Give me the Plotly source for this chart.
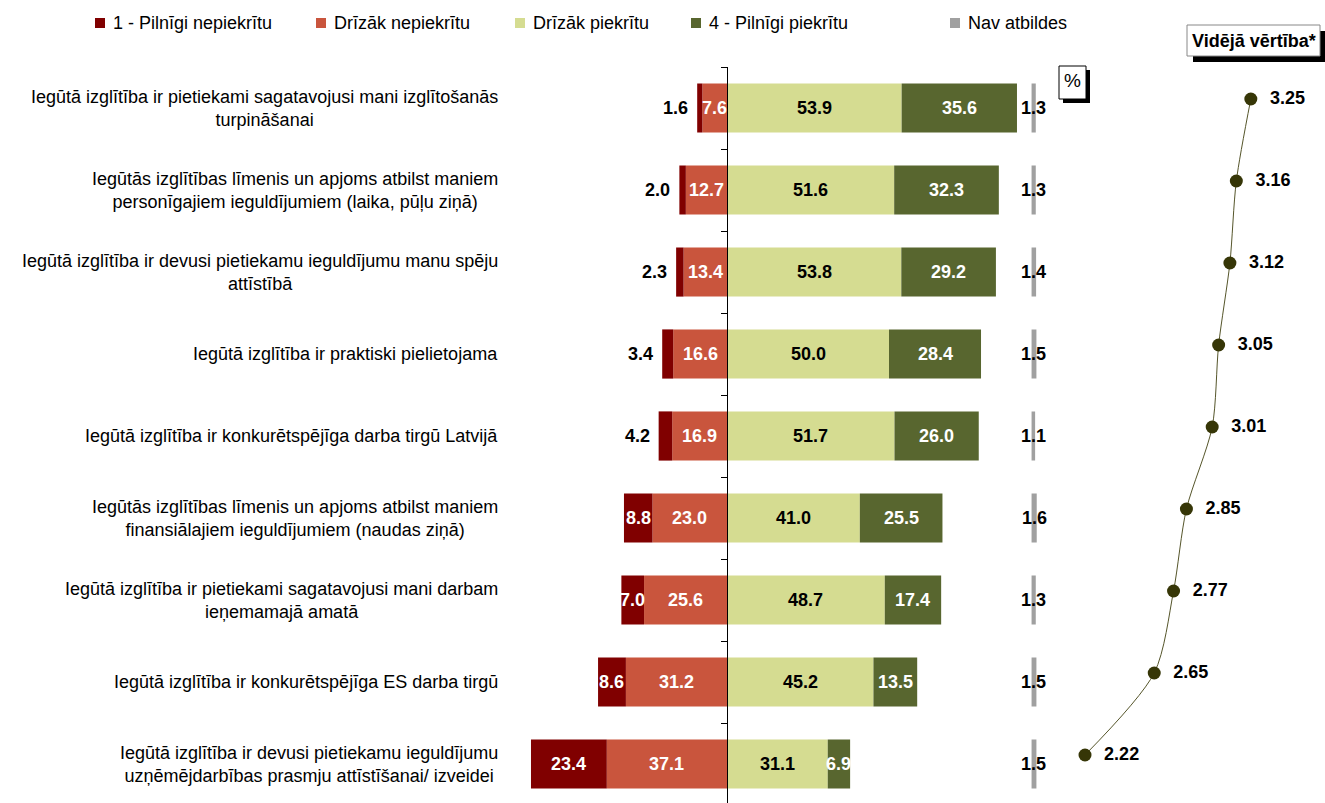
import plotly.graph_objects as go

categories = [
    "Iegūtā izglītība ir pietiekami sagatavojusi mani izglītošanās<br>turpināšanai",
    "Iegūtās izglītības līmenis un apjoms atbilst maniem<br>personīgajiem ieguldījumiem (laika, pūļu ziņā)",
    "Iegūtā izglītība ir devusi pietiekamu ieguldījumu manu spēju<br>attīstībā",
    "Iegūtā izglītība ir praktiski pielietojama",
    "Iegūtā izglītība ir konkurētspējīga darba tirgū Latvijā",
    "Iegūtās izglītības līmenis un apjoms atbilst maniem<br>finansiālajiem ieguldījumiem (naudas ziņā)",
    "Iegūtā izglītība ir pietiekami sagatavojusi mani darbam<br>ieņemamajā amatā",
    "Iegūtā izglītība ir konkurētspējīga ES darba tirgū",
    "Iegūtā izglītība ir devusi pietiekamu ieguldījumu<br>uzņēmējdarbības prasmju attīstīšanai/ izveidei",
]
pilnigi_nepiekritu = [1.6, 2.0, 2.3, 3.4, 4.2, 8.8, 7.0, 8.6, 23.4]
drizak_nepiekritu = [7.6, 12.7, 13.4, 16.6, 16.9, 23.0, 25.6, 31.2, 37.1]
drizak_piekritu = [53.9, 51.6, 53.8, 50.0, 51.7, 41.0, 48.7, 45.2, 31.1]
pilnigi_piekritu = [35.6, 32.3, 29.2, 28.4, 26.0, 25.5, 17.4, 13.5, 6.9]
nav_atbildes = [1.3, 1.3, 1.4, 1.5, 1.1, 1.6, 1.3, 1.5, 1.5]
videja_vertiba = [3.25, 3.16, 3.12, 3.05, 3.01, 2.85, 2.77, 2.65, 2.22]
series_names = ["1 - Pilnīgi nepiekrītu", "Drīzāk nepiekrītu", "Drīzāk piekrītu",
                "4 - Pilnīgi piekrītu", "Nav atbildes"]

C_DKRED = "#800000"
C_RED = "#C9553D"
C_LTGRN = "#D5DC91"
C_DKGRN = "#58662F"
C_GREY = "#A0A0A0"
C_OLIVE = "#363607"

W, H = 1325, 803
NAV_BASE = 94.0
FONT = "Liberation Sans, Arial, sans-serif"

def px(xp):
    return xp / W

def py(yp):
    return 1 - yp / H

ys = list(range(len(categories)))
fig = go.Figure()

red_base = [-v for v in drizak_nepiekritu]
dkred_base = [-(a + b) for a, b in zip(drizak_nepiekritu, pilnigi_nepiekritu)]

def add_bar(vals, base, color, name):
    fig.add_trace(go.Bar(y=ys, x=vals, base=base, orientation="h", width=0.6,
                         marker=dict(color=color, line=dict(width=0)),
                         name=name, showlegend=False, hoverinfo="skip"))

add_bar(drizak_nepiekritu, red_base, C_RED, series_names[1])
add_bar(pilnigi_nepiekritu, dkred_base, C_DKRED, series_names[0])
add_bar(drizak_piekritu, [0] * len(ys), C_LTGRN, series_names[2])
add_bar(pilnigi_piekritu, drizak_piekritu, C_DKGRN, series_names[3])
add_bar(nav_atbildes, [NAV_BASE] * len(ys), C_GREY, series_names[4])

# mean values
fig.add_trace(go.Scatter(
    x=videja_vertiba, y=ys, xaxis="x2", yaxis="y2", mode="lines+markers+text",
    line=dict(color="#55552a", width=1, shape="spline", smoothing=0.8),
    marker=dict(color=C_OLIVE, size=13),
    text=["\u00a0\u00a0" + f"{v:.2f}" for v in videja_vertiba], textposition="middle right",
    textfont=dict(family=FONT, size=18, color="black", weight="bold"),
    showlegend=False, hoverinfo="skip", cliponaxis=False))

annotations = []
lab_font_w = dict(family=FONT, size=18, color="white", weight="bold")
lab_font_b = dict(family=FONT, size=18, color="black", weight="bold")
for i in ys:
    r, d, lg, dg, n = (drizak_nepiekritu[i], pilnigi_nepiekritu[i], drizak_piekritu[i],
                       pilnigi_piekritu[i], nav_atbildes[i])
    annotations.append(dict(x=-r / 2, y=i, text=f"{r:.1f}", showarrow=False,
                            font=lab_font_w, xref="x", yref="y"))
    if d >= 6:
        annotations.append(dict(x=-r - d / 2, y=i, text=f"{d:.1f}", showarrow=False,
                                font=lab_font_w, xref="x", yref="y"))
    else:
        annotations.append(dict(x=-r - d, y=i, text=f"{d:.1f}", showarrow=False,
                                xanchor="right", xshift=-7,
                                font=lab_font_b, xref="x", yref="y"))
    annotations.append(dict(x=lg / 2, y=i, text=f"{lg:.1f}", showarrow=False,
                            font=lab_font_b, xref="x", yref="y"))
    annotations.append(dict(x=lg + dg / 2, y=i, text=f"{dg:.1f}", showarrow=False,
                            font=lab_font_w, xref="x", yref="y"))
    annotations.append(dict(x=NAV_BASE + n / 2, y=i, text=f"{n:.1f}", showarrow=False,
                            font=lab_font_b, xref="x", yref="y"))
    annotations.append(dict(x=px(500), y=i, xref="paper", yref="y", text=categories[i],
                            showarrow=False, xanchor="right", yanchor="middle", align="center",
                            font=dict(family=FONT, size=18, color="black")))

# legend (manual)
shapes = []
legend_x = [95, 316, 515, 691, 950]
legend_colors = [C_DKRED, C_RED, C_LTGRN, C_DKGRN, C_GREY]
for lx, col, nm in zip(legend_x, legend_colors, series_names):
    shapes.append(dict(type="rect", xref="paper", yref="paper",
                       x0=px(lx), x1=px(lx + 10), y0=py(28), y1=py(18),
                       fillcolor=col, line=dict(width=0)))
    annotations.append(dict(x=px(lx + 16), y=py(23), xref="paper", yref="paper",
                            text=nm, showarrow=False, xanchor="left", yanchor="middle",
                            font=dict(family=FONT, size=18, color="black")))

# "%" box
shapes.append(dict(type="rect", xref="paper", yref="paper", x0=px(1063), x1=px(1090),
                   y0=py(103), y1=py(70), fillcolor="black", line=dict(width=0)))
shapes.append(dict(type="rect", xref="paper", yref="paper", x0=px(1059), x1=px(1086),
                   y0=py(99), y1=py(66), fillcolor="white", line=dict(color="black", width=1)))
annotations.append(dict(x=px(1072.5), y=py(81), xref="paper", yref="paper", text="%",
                        showarrow=False, xanchor="center", yanchor="middle",
                        font=dict(family=FONT, size=19, color="black")))
# "Vidējā vērtība*" box
shapes.append(dict(type="rect", xref="paper", yref="paper", x0=px(1193), x1=px(1326),
                   y0=py(62), y1=py(31), fillcolor="black", line=dict(width=0)))
shapes.append(dict(type="rect", xref="paper", yref="paper", x0=px(1187), x1=px(1320),
                   y0=py(56), y1=py(25), fillcolor="white", line=dict(color="#888", width=1)))
annotations.append(dict(x=px(1253.5), y=py(41), xref="paper", yref="paper",
                        text="Vidējā vērtība*", showarrow=False,
                        xanchor="center", yanchor="middle",
                        font=dict(family=FONT, size=18, color="black", weight="bold")))

x_lo, x_hi = -70, 97
ppu = 3.24
zero_px = 727
x_dom = [px(zero_px + x_lo * ppu), px(zero_px + x_hi * ppu)]
m_lo, m_hi, m_ppu = 2.0, 3.6, 161
m_zero = 1085 - (2.22 - m_lo) * m_ppu
x2_dom = [px(m_zero), px(m_zero + (m_hi - m_lo) * m_ppu)]
y_top = py(67)
y_range = [-0.5 + (H - 67) / 82.0, -0.5]
shift = 9

fig.update_layout(
    width=W, height=H, margin=dict(l=0, r=0, t=0, b=0),
    paper_bgcolor="white", plot_bgcolor="rgba(0,0,0,0)",
    barmode="overlay", showlegend=False,
    font=dict(family=FONT),
    xaxis=dict(domain=x_dom, range=[x_lo, x_hi], visible=False, anchor="y"),
    xaxis2=dict(domain=x2_dom, range=[m_lo, m_hi], visible=False, anchor="y2"),
    yaxis=dict(domain=[0, y_top], range=y_range, anchor="free", position=px(zero_px),
               showline=True, linecolor="black", linewidth=1, ticks="outside",
               ticklen=6, tickcolor="black", tickvals=[k - 0.5 for k in range(10)],
               showticklabels=False, showgrid=False, zeroline=False),
    yaxis2=dict(domain=[shift / H, py(67 - shift)], range=y_range, anchor="x2",
                visible=False),
    shapes=shapes, annotations=annotations,
)

fig.write_html("out.html", config={"displayModeBar": False},
               post_script="document.body.style.margin='0';document.body.style.overflow='hidden';")
